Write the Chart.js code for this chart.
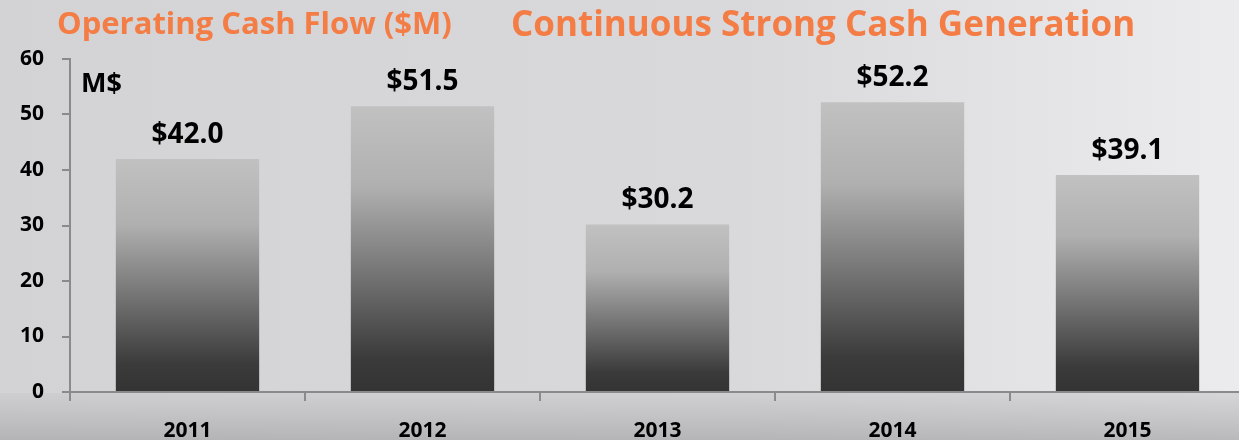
<!DOCTYPE html>
<html>
<head>
<meta charset="utf-8">
<script src="https://cdn.jsdelivr.net/npm/chart.js@4"></script>
<style>
  html, body { margin: 0; padding: 0; overflow: hidden; background: #d8d8da; }
  #wrap { width: 1250px; height: 440px; }
</style>
</head>
<body>
<div id="wrap"><canvas id="chart" width="1250" height="440"></canvas></div>
<script>
// data
const years = ['2011', '2012', '2013', '2014', '2015'];
const cashFlow = [42.0, 51.5, 30.2, 52.2, 39.1];
const valueLabels = ['$42.0', '$51.5', '$30.2', '$52.2', '$39.1'];
const yTicks = [0, 10, 20, 30, 40, 50, 60];

const ORANGE = '#f47c45';
const FONT = '"Open Sans", Lato, sans-serif';

// background + titles
const backdrop = {
    id: 'backdrop',
    beforeDraw(chart) {
        const c = chart.ctx;
        const w = chart.width, h = chart.height;
        let g = c.createLinearGradient(0, 0, w, 0);
        g.addColorStop(0, '#d3d3d5');
        g.addColorStop(0.6, '#d9d9db');
        g.addColorStop(1, '#ececee');
        c.save();
        c.fillStyle = g;
        c.fillRect(0, 0, w, h);
        // darker floor under the axis
        let b = c.createLinearGradient(0, 393, 0, h);
        b.addColorStop(0, 'rgba(204,204,206,0.7)');
        b.addColorStop(1, 'rgba(172,172,174,0.8)');
        c.fillStyle = b;
        c.fillRect(0, 393, w, h - 393);
        c.restore();
    },
    afterDraw(chart) {
        const c = chart.ctx;
        c.save();
        c.fillStyle = ORANGE;
        c.textBaseline = 'middle';
        c.textAlign = 'left';
        c.font = 'bold 31px ' + FONT;
        c.fillText('Operating Cash Flow ($M)', 57, 25);
        c.font = 'bold 35px ' + FONT;
        c.fillText('Continuous Strong Cash Generation', 511, 26);
        c.fillStyle = '#000';
        c.font = 'bold 27px ' + FONT;
        c.fillText('M$', 81, 84);
        // value labels
        c.font = 'bold 28px ' + FONT;
        c.textAlign = 'center';
        c.textBaseline = 'bottom';
        const meta = chart.getDatasetMeta(0);
        meta.data.forEach((bar, i) => {
            c.fillText(valueLabels[i], bar.x, bar.y - 10);
        });
        c.restore();
    }
};

const ctx = document.getElementById('chart').getContext('2d');
new Chart(ctx, {
    type: 'bar',
    data: {
        labels: years,
        datasets: [{
            label: 'Operating Cash Flow',
            data: cashFlow,
            backgroundColor: function (context) {
                const chart = context.chart;
                const y = chart.scales.y;
                if (!chart.chartArea || !y || context.parsed == null) return '#777';
                const top = y.getPixelForValue(context.parsed.y);
                const bottom = y.getPixelForValue(0);
                if (!isFinite(top) || !isFinite(bottom) || top === bottom) return '#777';
                const g = chart.ctx.createLinearGradient(0, top, 0, bottom);
                g.addColorStop(0, '#c1c1c1');
                g.addColorStop(0.28, '#b0b0b0');
                g.addColorStop(0.6, '#727272');
                g.addColorStop(0.88, '#3b3b3b');
                g.addColorStop(1, '#333333');
                return g;
            },
            borderWidth: 0,
            categoryPercentage: 0.61,
            barPercentage: 1
        }]
    },
    options: {
        responsive: false,
        animation: false,
        layout: { padding: { top: 59, right: 5, left: 0, bottom: 0 } },
        plugins: {
            legend: { display: false },
            tooltip: { enabled: false }
        },
        scales: {
            x: {
                grid: {
                    offset: true,
                    drawOnChartArea: false,
                    drawTicks: true,
                    tickLength: 9,
                    color: '#8a8a8a',
                    lineWidth: 2
                },
                border: { color: '#8a8a8a', width: 2 },
                ticks: {
                    color: '#000',
                    padding: 17,
                    font: { family: FONT, size: 21, weight: 'bold' }
                },
                afterFit(scale) { scale.height = 48; }
            },
            y: {
                min: 0,
                max: 60,
                afterBuildTicks(scale) {
                    scale.ticks = yTicks.map(v => ({ value: v }));
                },
                grid: {
                    drawOnChartArea: false,
                    drawTicks: true,
                    tickLength: 8,
                    color: '#8a8a8a',
                    lineWidth: 2
                },
                border: { color: '#8a8a8a', width: 2 },
                ticks: {
                    color: '#000',
                    padding: 18,
                    font: { family: FONT, size: 21, weight: 'bold' }
                },
                afterFit(scale) { scale.width = 70; }
            }
        }
    },
    plugins: [backdrop]
});
</script>
</body>
</html>
